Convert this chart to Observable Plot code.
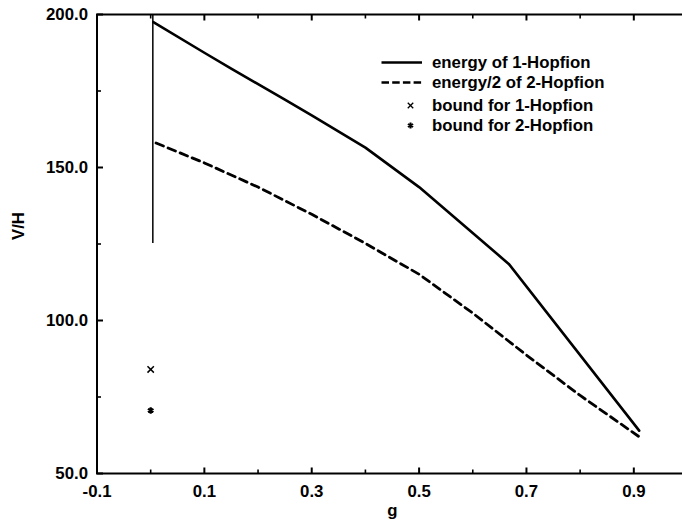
<!DOCTYPE html>
<html>
<head>
<meta charset="utf-8">
<script src="https://cdn.jsdelivr.net/npm/d3@7"></script>
<script src="https://cdn.jsdelivr.net/npm/@observablehq/plot@0.6"></script>
<style>
  body { margin: 0; background: #fff; }
  #chart svg { display: block; }
  #chart svg text { font-weight: 700; }
</style>
</head>
<body>
<div id="chart"></div>
<script>
// ---- data ----
const g1 = [0.005, 0.1, 0.15, 0.25, 0.3, 0.4, 0.5, 0.667, 0.91];
const e1 = [197.5, 187.5, 182.3, 172.2, 167.0, 156.5, 143.6, 118.5, 64.0];

const g2 = [0.01, 0.1, 0.2, 0.3, 0.4, 0.5, 0.6, 0.7, 0.8, 0.91];
const e2 = [158.0, 151.5, 143.6, 134.7, 125.2, 115.1, 102.4, 88.7, 75.5, 62.0];

const gSpike = [0.004];
const spikeLow = [125.2];
const spikeHigh = [200];

const boundG = [0.0];
const bound1 = [84.0];
const bound2 = [70.6];

const xMajor = [-0.1, 0.1, 0.3, 0.5, 0.7, 0.9];
const xMinor = [0.0, 0.2, 0.4, 0.6, 0.8];
const yMajor = [50, 100, 150, 200];
const yMinor = [75, 125, 175];

const legendLabels = ["energy of 1-Hopfion", "energy/2 of 2-Hopfion", "bound for 1-Hopfion", "bound for 2-Hopfion"];
const xLabel = "g";
const yLabel = "V/H";

// ---- tables built from the arrays ----
const line1 = g1.map((g, i) => ({g, v: e1[i]}));
const line2 = g2.map((g, i) => ({g, v: e2[i]}));
const spike = gSpike.map((g, i) => ({g, lo: spikeLow[i], hi: spikeHigh[i]}));
const b1 = boundG.map((g, i) => ({g, v: bound1[i]}));
const b2 = boundG.map((g, i) => ({g, v: bound2[i]}));

const xDom = [-0.1, 1.0];
const yDom = [50, 200];
const fmt = d => d.toFixed(1);

// inward tick glyphs (pixel-length segments drawn as custom dot symbols)
const seg = (dx, dy) => ({draw(ctx) { ctx.moveTo(0, 0); ctx.lineTo(dx, dy); }});
const tickStyle = (len, w) => ({fill: "none", stroke: "#000", strokeWidth: w, r: len});

// legend layout (pixels relative to the frame's top-left corner)
const legLineL = 285, legLineR = 265;
const legRowY = [48, 68, 91, 111];
const legTextDx = 335, legSymDx = 313.5;

const marks = [
  Plot.frame({stroke: "#000", strokeWidth: 2}),
  // inward ticks
  Plot.dot(xMajor, {x: d => d, y: () => yDom[0], symbol: seg(0, -6), ...tickStyle(6, 2)}),
  Plot.dot(xMinor, {x: d => d, y: () => yDom[0], symbol: seg(0, -4), ...tickStyle(4, 1.6)}),
  Plot.dot(xMajor, {x: d => d, y: () => yDom[1], symbol: seg(0, 6), ...tickStyle(6, 2)}),
  Plot.dot(xMinor, {x: d => d, y: () => yDom[1], symbol: seg(0, 4), ...tickStyle(4, 1.6)}),
  Plot.dot(yMajor, {y: d => d, x: () => xDom[0], symbol: seg(6, 0), ...tickStyle(6, 2)}),
  Plot.dot(yMinor, {y: d => d, x: () => xDom[0], symbol: seg(4, 0), ...tickStyle(4, 1.6)}),
  // tick labels
  Plot.axisX(xMajor, {tickSize: 0, tickPadding: 12, tickFormat: fmt, label: null}),
  Plot.axisY(yMajor, {tickSize: 0, tickPadding: 9, tickFormat: fmt, label: null}),
  // axis titles
  Plot.text([xLabel], {text: d => d, frameAnchor: "bottom", lineAnchor: "middle", dy: 37}),
  Plot.text([yLabel], {text: d => d, frameAnchor: "left", lineAnchor: "middle", dx: -78, dy: -4, rotate: -90}),
  // data
  Plot.ruleX(spike, {x: "g", y1: "lo", y2: "hi", strokeWidth: 1.5}),
  Plot.line(line1, {x: "g", y: "v", strokeWidth: 2.6}),
  Plot.line(line2, {x: "g", y: "v", strokeWidth: 2.8, strokeDasharray: "8,5"}),
  Plot.dot(b1, {x: "g", y: "v", symbol: "times", r: 3, stroke: "#000", strokeWidth: 1.5}),
  Plot.dot(b2, {x: "g", y: "v", symbol: "asterisk", r: 3, stroke: "#000", strokeWidth: 2.2}),
  // legend
  Plot.ruleY([yDom[1]], {y: d => d, insetLeft: legLineL, insetRight: legLineR, dy: legRowY[0], strokeWidth: 2.6}),
  Plot.ruleY([yDom[1]], {y: d => d, insetLeft: legLineL, insetRight: legLineR, dy: legRowY[1], strokeWidth: 2.6, strokeDasharray: "7.5,3.2"}),
  Plot.dot([null], {x: null, y: null, frameAnchor: "top-left", dx: legSymDx, dy: legRowY[2], symbol: "times", r: 2.6, stroke: "#000", strokeWidth: 1.3}),
  Plot.dot([null], {x: null, y: null, frameAnchor: "top-left", dx: legSymDx, dy: legRowY[3], symbol: "asterisk", r: 2.8, stroke: "#000", strokeWidth: 2}),
  ...legendLabels.map((t, i) => Plot.text([t], {text: d => d, frameAnchor: "top-left", lineAnchor: "middle", dx: legTextDx, dy: legRowY[i], textAnchor: "start"}))
];

const chart = Plot.plot({
  width: 682,
  height: 525,
  marginLeft: 96.5,
  marginTop: 14,
  marginBottom: 52,
  marginRight: -5,
  style: {fontFamily: "'Liberation Sans', Arial, Helvetica, sans-serif", fontSize: "16.8px", color: "#000", background: "#fff"},
  x: {domain: xDom},
  y: {domain: yDom},
  marks
});
document.getElementById("chart").appendChild(chart);
</script>
</body>
</html>
